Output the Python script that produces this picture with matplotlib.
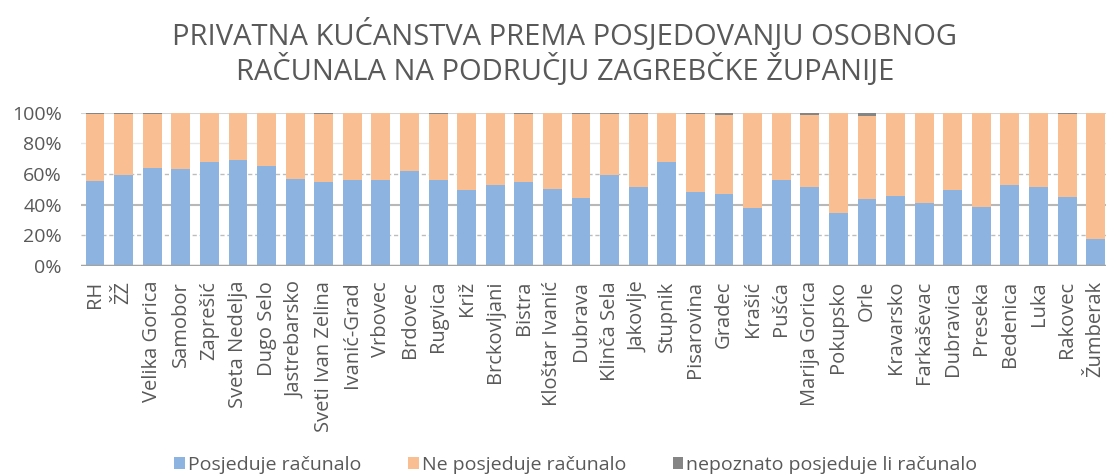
import matplotlib
matplotlib.use("Agg")
import matplotlib.pyplot as plt
import numpy as np
from matplotlib.patches import Patch

plt.rcParams['font.family'] = ['Open Sans', 'DejaVu Sans']

categories = ["RH", "ŽŽ", "Velika Gorica", "Samobor", "Zaprešić", "Sveta Nedelja",
              "Dugo Selo", "Jastrebarsko", "Sveti Ivan Zelina", "Ivanić-Grad", "Vrbovec",
              "Brdovec", "Rugvica", "Križ", "Brckovljani", "Bistra", "Kloštar Ivanić",
              "Dubrava", "Klinča Sela", "Jakovlje", "Stupnik", "Pisarovina", "Gradec",
              "Krašić", "Pušća", "Marija Gorica", "Pokupsko", "Orle", "Kravarsko",
              "Farkaševac", "Dubravica", "Preseka", "Bedenica", "Luka", "Rakovec", "Žumberak"]

posjeduje = [55.4, 59.3, 63.9, 63.2, 67.8, 68.9, 65.4, 56.7, 54.5, 56.0, 56.0,
             61.9, 56.0, 49.5, 52.7, 54.5, 50.3, 44.0, 59.3, 51.2, 67.8, 48.2, 47.1,
             37.9, 56.0, 51.2, 34.6, 43.4, 45.8, 41.0, 49.7, 38.6, 52.7, 51.2, 44.9, 17.5]

nepoznato = [1.0, 1.0, 1.0, 0.3, 0.3, 0.3, 0.3, 0.3, 0.8, 0.3, 0.3,
             0.3, 1.0, 0.3, 0.3, 1.0, 0.3, 1.0, 1.0, 1.0, 0.3, 1.0, 1.6,
             0.3, 0.3, 1.5, 0.3, 2.4, 0.3, 0.3, 0.3, 0.3, 0.3, 0.3, 1.0, 0.3]

ne_posjeduje = [round(100 - p - n, 1) for p, n in zip(posjeduje, nepoznato)]

yticks = [0, 20, 40, 60, 80, 100]
ytick_labels = ["0%", "20%", "40%", "60%", "80%", "100%"]

legend_labels = ["Posjeduje računalo", "Ne posjeduje računalo", "nepoznato posjeduje li računalo"]
title_lines = ["PRIVATNA KUĆANSTVA PREMA POSJEDOVANJU OSOBNOG",
               "RAČUNALA NA PODRUČJU ZAGREBČKE ŽUPANIJE"]

c_blue = "#8db4e1"
c_orange = "#f9be91"
c_gray = "#858585"
c_text = "#595959"

W, H = 1106, 475
fig = plt.figure(figsize=(W / 100, H / 100), dpi=100)
ax = fig.add_axes([80.7 / W, (H - 265.7) / H, (1110 - 80.7) / W, 153 / H])

x = np.arange(len(categories))
bw = 0.66
b1 = np.array(posjeduje)
b2 = np.array(ne_posjeduje)
b3 = np.array(nepoznato)
ax.bar(x, b1, bw, color=c_blue, zorder=3)
ax.bar(x, b2, bw, bottom=b1, color=c_orange, zorder=3)
ax.bar(x, b3, bw, bottom=b1 + b2, color=c_gray, zorder=3)

ax.set_xlim(-0.5, len(categories) - 0.5)
ax.set_ylim(0, 100)

# gridlines
grid_styles = {0: ("#a3a3a3", 2.5, "-"), 20: ("#bdbdbd", 1.0, (0, (3, 2))),
               40: ("#b8b8b8", 1.5, "-"), 60: ("#bdbdbd", 1.0, (0, (3, 2))),
               80: ("#e6e6e6", 1.0, "-"), 100: ("#d4d4d4", 1.5, "-")}
for yv in yticks:
    col, lw, ls = grid_styles[yv]
    ax.axhline(yv, color=col, lw=lw, ls=ls, zorder=1 if yv else 4)

for s in ax.spines.values():
    s.set_visible(False)

ax.set_yticks(yticks)
ax.set_yticklabels(ytick_labels, fontsize=14, color=c_text)
ax.set_xticks(x)
ax.set_xticklabels(categories, rotation=90, fontsize=14.5, color=c_text, va="top", ha="center")
ax.tick_params(axis="y", length=0, pad=13.5)
ax.tick_params(axis="x", length=0, pad=11)

fig.text(565 / W, 1 - 45 / H, title_lines[0], ha="center", va="baseline", fontsize=21, color=c_text)
fig.text(565 / W, 1 - 80 / H, title_lines[1], ha="center", va="baseline", fontsize=21, color=c_text)

handles = [Patch(facecolor=c_blue), Patch(facecolor=c_orange), Patch(facecolor=c_gray)]
leg = fig.legend(handles, legend_labels, loc="center", bbox_to_anchor=(576 / W, 1 - 465 / H),
                 ncol=3, frameon=False, fontsize=14, handlelength=0.55, handleheight=0.55,
                 handletextpad=0.15, columnspacing=2.4, borderaxespad=0, borderpad=0)
for t in leg.get_texts():
    t.set_color(c_text)

fig.savefig("out.png", dpi=100)
